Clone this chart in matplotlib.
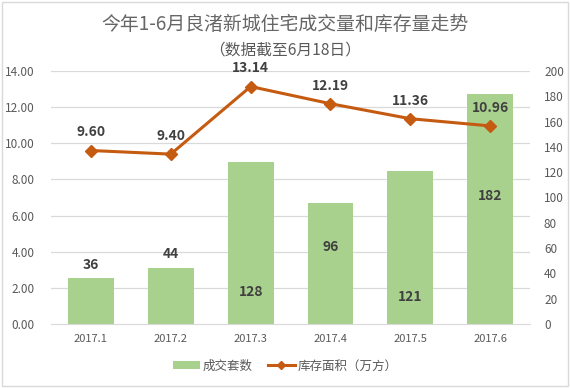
import matplotlib
matplotlib.use("Agg")
import matplotlib.pyplot as plt
from matplotlib.lines import Line2D
from matplotlib.patches import Patch, Rectangle

plt.rcParams["font.family"] = ["Noto Sans CJK SC", "DejaVu Sans"]

months = ["2017.1", "2017.2", "2017.3", "2017.4", "2017.5", "2017.6"]
deals = [36, 44, 128, 96, 121, 182]            # 成交套数 (right axis)
stock = [9.60, 9.40, 13.14, 12.19, 11.36, 10.96]  # 库存面积 (left axis)
# where the bar value labels sit, in bar-axis units
deal_label_y = [47, 55, 25, 61, 21, 101]

BAR_COLOR = "#A9D18E"
LINE_COLOR = "#C55A11"
TEXT = "#595959"
LABEL = "#404040"
GRID = "#D9D9D9"

fig = plt.figure(figsize=(5.7, 3.88), dpi=100)
ax_bar = fig.add_axes([0.0895, 0.165, 0.8405, 0.652])
ax_line = ax_bar.twinx()

x = list(range(len(months)))

# bars -> right axis
ax_bar.bar(x, deals, width=0.575, color=BAR_COLOR, zorder=2)
ax_bar.set_ylim(0, 200)
ax_bar.set_yticks(range(0, 201, 20))
ax_bar.yaxis.tick_right()
ax_bar.tick_params(axis="y", length=0, labelsize=8.5, labelcolor=TEXT, pad=10)
for xi, v, ly in zip(x, deals, deal_label_y):
    ax_bar.text(xi, ly, f"{v}", ha="center", va="center", fontsize=10,
                fontweight="bold", color=LABEL, zorder=4)

# line -> left axis
ax_line.plot(x, stock, color=LINE_COLOR, lw=2.2, marker="D", ms=6.5, zorder=3)
ax_line.set_ylim(0, 14)
ax_line.set_yticks(range(0, 15, 2))
ax_line.set_yticklabels([f"{t:.2f}" for t in range(0, 15, 2)])
ax_line.yaxis.tick_left()
ax_line.tick_params(axis="y", length=0, labelsize=8.5, labelcolor=TEXT, pad=12)
for xi, v in zip(x, stock):
    ax_line.annotate(f"{v:.2f}", (xi, v), xytext=(0, 13), textcoords="offset points",
                     ha="center", va="center", fontsize=10, fontweight="bold",
                     color=LABEL)

# gridlines follow the left axis
for t in range(2, 15, 2):
    ax_bar.axhline(t * 200 / 14, color=GRID, lw=0.9, zorder=1)

ax_bar.set_xlim(-0.5, len(months) - 0.5)
ax_bar.set_xticks(x)
ax_bar.set_xticklabels(months)
ax_bar.tick_params(axis="x", length=0, labelsize=8, labelcolor=TEXT, pad=7)

for a in (ax_bar, ax_line):
    for s in a.spines.values():
        s.set_visible(False)
ax_bar.spines["bottom"].set_visible(True)
ax_bar.spines["bottom"].set_color(GRID)

fig.text(0.5, 0.938, "今年1-6月良渚新城住宅成交量和库存量走势", ha="center",
         va="center", fontsize=13.6, fontweight="light", color="#666666")
fig.text(0.5, 0.872, "（数据截至6月18日）", ha="center", va="center",
         fontsize=11.3, fontweight="light", color=TEXT)

handles = [
    Patch(facecolor=BAR_COLOR, label="成交套数"),
    Line2D([0], [0], color=LINE_COLOR, lw=2.2, marker="D", ms=4, label="库存面积（万方）"),
]
fig.legend(handles=handles, loc="center", bbox_to_anchor=(0.5, 0.057), ncol=2,
           frameon=False, fontsize=9, labelcolor=TEXT, handlelength=2.2,
           columnspacing=1.2, handletextpad=0.2)

fig.patches.append(Rectangle((0.004, 0.005), 0.992, 0.99, transform=fig.transFigure,
                             fill=False, edgecolor=GRID, lw=1))

fig.savefig("out.png", dpi=100)
